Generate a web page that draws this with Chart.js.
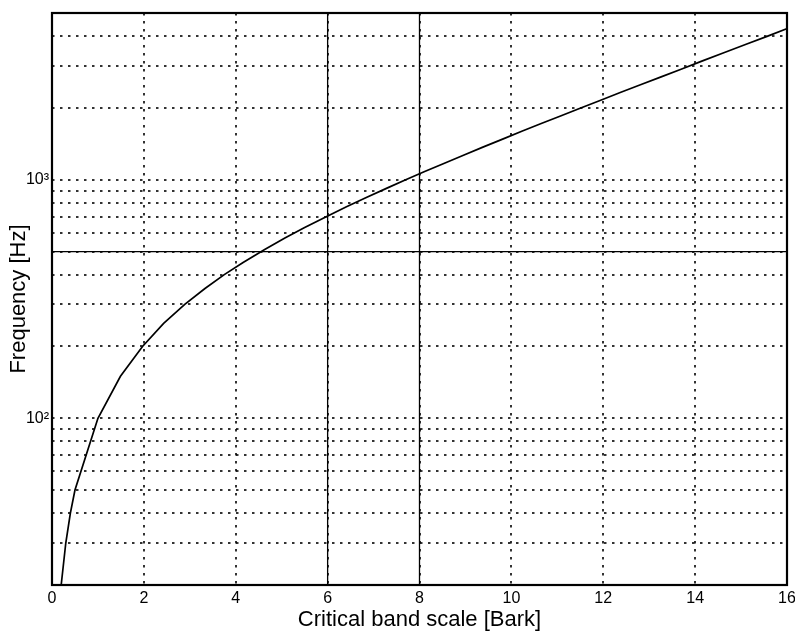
<!DOCTYPE html>
<html>
<head>
<meta charset="utf-8">
<script src="https://cdn.jsdelivr.net/npm/chart.js@4.4.1/dist/chart.umd.min.js"></script>
<style>
  html, body { margin: 0; padding: 0; background: #fff; }
  canvas { display: block; }
</style>
</head>
<body>
<canvas id="bark-chart" width="795" height="633"></canvas>
<script>
// --- datos ---
const barkValues = [0.20, 0.30, 0.40, 0.50, 1.00, 1.49, 1.97, 2.43, 2.89, 3.33, 3.75, 4.16,
    4.63, 5.07, 5.50, 5.97, 6.41, 6.83, 7.28, 7.70, 8.10, 8.53, 8.97, 9.38, 9.81, 10.24,
    10.65, 11.07, 11.51, 11.93, 12.37, 12.81, 13.26, 13.68, 14.16, 14.61, 15.11, 15.58, 16.14];
const freqValues = [20, 30, 40, 50, 100, 150, 200, 250, 300, 350, 400, 450,
    510, 570, 630, 700, 770, 840, 920, 1000, 1080, 1170, 1270, 1370, 1480, 1600,
    1720, 1850, 2000, 2150, 2320, 2500, 2700, 2900, 3150, 3400, 3700, 4000, 4400];

const xTicks = [0, 2, 4, 6, 8, 10, 12, 14, 16];
const yTicks = [20, 30, 40, 50, 60, 70, 80, 90, 100, 200, 300, 400, 500, 600, 700, 800, 900,
    1000, 2000, 3000, 4000, 5000];
const yTickLabels = { 100: '10²', 1000: '10³' };

// lineas de rejilla que salen continuas en la figura
const solidX = [6, 8];
const solidY = [500];

Chart.defaults.font.family = "'Liberation Sans', Arial, sans-serif";
Chart.defaults.color = '#000';

const framePlugin = {
    id: 'frame',
    beforeDatasetsDraw(chart) {
        const { ctx, chartArea: a, scales } = chart;
        ctx.save();
        ctx.beginPath();
        ctx.rect(a.left, a.top, a.right - a.left, a.bottom - a.top);
        ctx.clip();
        ctx.strokeStyle = '#000';
        ctx.lineWidth = 1.3;
        solidX.forEach(v => {
            const px = scales.x.getPixelForValue(v);
            ctx.beginPath();
            ctx.moveTo(px, a.top);
            ctx.lineTo(px, a.bottom);
            ctx.stroke();
        });
        solidY.forEach(v => {
            const py = scales.y.getPixelForValue(v);
            ctx.beginPath();
            ctx.moveTo(a.left, py);
            ctx.lineTo(a.right, py);
            ctx.stroke();
        });
        ctx.restore();
    },
    afterDraw(chart) {
        const { ctx, chartArea: a } = chart;
        ctx.save();
        ctx.strokeStyle = '#000';
        ctx.lineWidth = 2.2;
        ctx.strokeRect(a.left, a.top, a.right - a.left, a.bottom - a.top);
        ctx.restore();
    }
};

const ctx = document.getElementById('bark-chart').getContext('2d');

new Chart(ctx, {
    type: 'line',
    data: {
        datasets: [{
            data: barkValues.map((b, i) => ({ x: b, y: freqValues[i] })),
            borderColor: '#000',
            borderWidth: 1.7,
            pointRadius: 0,
            fill: false,
            tension: 0
        }]
    },
    options: {
        responsive: false,
        animation: false,
        layout: { padding: { top: 13, right: 0, left: 0, bottom: 0 } },
        plugins: { legend: { display: false }, tooltip: { enabled: false } },
        scales: {
            x: {
                type: 'linear',
                min: 0,
                max: 16,
                afterBuildTicks: scale => { scale.ticks = xTicks.map(v => ({ value: v })); },
                afterFit: scale => {
                    scale.height = 48;
                    scale.paddingLeft = 0;
                    scale.paddingRight = 8;
                },
                ticks: { font: { size: 16 }, padding: 4, maxRotation: 0 },
                grid: { color: 'rgba(0,0,0,0.8)', lineWidth: 2, drawTicks: false },
                border: { display: false, dash: [2.5, 5.5] },
                title: {
                    display: true,
                    text: 'Critical band scale [Bark]',
                    font: { size: 22 },
                    padding: { top: 0, bottom: 0 }
                }
            },
            y: {
                type: 'logarithmic',
                min: 20,
                max: 5000,
                afterBuildTicks: scale => { scale.ticks = yTicks.map(v => ({ value: v })); },
                afterFit: scale => { scale.width = 52; },
                ticks: {
                    autoSkip: false,
                    font: { size: 16 },
                    padding: 3,
                    callback: v => yTickLabels[v] || ''
                },
                grid: { color: 'rgba(0,0,0,0.8)', lineWidth: 2, drawTicks: false },
                border: { display: false, dash: [2.5, 5.5] },
                title: {
                    display: true,
                    text: 'Frequency [Hz]',
                    font: { size: 22 },
                    padding: { top: 6, bottom: 0 }
                }
            }
        }
    },
    plugins: [framePlugin]
});
</script>
</body>
</html>
